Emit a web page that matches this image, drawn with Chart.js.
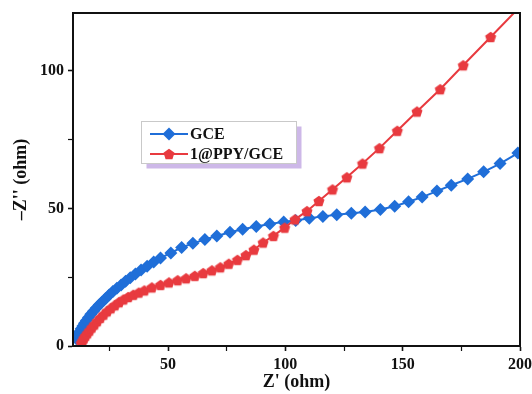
<!DOCTYPE html>
<html>
<head>
<meta charset="utf-8">
<script src="https://cdn.jsdelivr.net/npm/chart.js@4/dist/chart.umd.min.js"></script>
<style>
  html, body { margin: 0; padding: 0; background: #fff; }
</style>
</head>
<body>
<canvas id="nyquist" width="532" height="394"></canvas>
<script>
// Nyquist plot, values (Z' / -Z'' in ohm)
const gceX = [10.9, 11.3, 11.8, 12.4, 13.0, 13.7, 14.4, 15.2, 16.1, 17.1, 18.2, 19.4, 20.7, 22.0, 23.4, 24.9,
  26.5, 28.2, 30.0, 31.9, 33.9, 36.1, 38.5, 41.1, 43.9, 46.8, 51.2, 55.8, 60.6, 65.7, 70.8, 76.4, 81.8,
  87.6, 93.4, 99.3, 104.4, 110.2, 116.0, 121.9, 128.1, 134.0, 140.5, 146.6, 152.5, 158.3, 164.6, 170.7,
  177.7, 184.5, 191.5, 199.1];
const gceY = [2.6, 3.4, 4.3, 5.3, 6.3, 7.3, 8.3, 9.3, 10.4, 11.5, 12.6, 13.8, 15.0, 16.1, 17.3, 18.5,
  19.8, 21.0, 22.2, 23.5, 24.8, 26.2, 27.6, 29.0, 30.5, 32.0, 33.8, 35.8, 37.3, 38.7, 40.0, 41.3, 42.4,
  43.4, 44.3, 45.1, 45.6, 46.4, 47.1, 47.7, 48.2, 48.7, 49.6, 50.8, 52.4, 54.1, 56.3, 58.4,
  60.7, 63.3, 66.3, 70.1];

const ppyX = [13.0, 13.5, 14.1, 14.8, 15.6, 16.5, 17.5, 18.6, 19.8, 21.1, 22.5, 24.0, 25.6, 27.3, 29.1,
  31.0, 33.0, 35.2, 37.5, 39.9, 43.1, 46.8, 50.4, 54.1, 57.7, 61.4, 65.0, 68.7, 72.3, 75.9, 79.6, 83.2,
  86.6, 90.5, 94.9, 99.7, 104.1, 109.2, 114.3, 120.1, 126.2, 132.9, 140.1, 147.7, 156.1, 166.0, 175.8,
  187.5, 200.5];
const ppyY = [1.0, 1.9, 2.8, 3.7, 4.6, 5.6, 6.7, 7.8, 9.0, 10.2, 11.4, 12.6, 13.7, 14.8, 15.9,
  16.9, 17.8, 18.6, 19.4, 20.2, 21.3, 22.2, 23.1, 23.9, 24.6, 25.5, 26.5, 27.5, 28.6, 29.9, 31.3, 33.0,
  35.0, 37.6, 40.0, 43.0, 46.0, 49.0, 52.7, 56.9, 61.3, 66.3, 71.9, 78.2, 85.2, 93.3, 102.0,
  112.3, 123.7];

const xTicksMajor = [50, 100, 150, 200];
const yTicksMajor = [0, 50, 100];

const BLUE = '#1f6ed8';
const RED = '#e83a3f';
const FONT = "'Liberation Serif', 'Times New Roman', serif";

function pentagon(r, color) {
  const s = Math.ceil(r * 2 + 2);
  const c = document.createElement('canvas');
  c.width = s; c.height = s;
  const g = c.getContext('2d');
  g.fillStyle = color;
  g.beginPath();
  for (let i = 0; i < 5; i++) {
    const a = -Math.PI / 2 + i * 2 * Math.PI / 5;
    const px = s / 2 + r * Math.cos(a);
    const py = s / 2 + 0.6 + r * Math.sin(a);
    if (i === 0) g.moveTo(px, py); else g.lineTo(px, py);
  }
  g.closePath();
  g.fill();
  return c;
}
const redPent = pentagon(5.8, RED);

const pts = (xs, ys) => xs.map((x, i) => ({ x, y: ys[i] }));

// frame on top/right + legend box with its shadow
const frameAndLegend = {
  id: 'frameAndLegend',
  afterDatasetsDraw(chart) {
    const { ctx, chartArea: a } = chart;
    ctx.save();
    ctx.strokeStyle = '#111';
    ctx.lineWidth = 2;
    ctx.strokeRect(a.left, a.top, a.right - a.left, a.bottom - a.top);
    ctx.restore();
  },
  afterDraw(chart) {
    const ctx = chart.ctx;
    const bx = 141.5, by = 121.5, bw = 155, bh = 42;
    ctx.save();
    ctx.fillStyle = '#cdb8e8';
    ctx.fillRect(bx + 5, by + 5, bw, bh);
    ctx.fillStyle = '#fff';
    ctx.fillRect(bx, by, bw, bh);
    ctx.strokeStyle = '#c9c9c9';
    ctx.lineWidth = 1;
    ctx.strokeRect(bx, by, bw, bh);

    const rows = [
      { label: 'GCE', color: BLUE, style: 'rectRot', radius: 6.5, y: 134 },
      { label: '1@PPY/GCE', color: RED, style: redPent, radius: 6, y: 154 }
    ];
    rows.forEach(r => {
      ctx.strokeStyle = r.color;
      ctx.lineWidth = 2;
      ctx.beginPath();
      ctx.moveTo(150, r.y);
      ctx.lineTo(188, r.y);
      ctx.stroke();
      ctx.fillStyle = r.color;
      Chart.helpers.drawPoint(ctx, { pointStyle: r.style, radius: r.radius, rotation: 0, borderWidth: 0 }, 169, r.y);
      ctx.fillStyle = '#111';
      ctx.font = "bold 16px " + FONT;
      ctx.textBaseline = 'middle';
      ctx.fillText(r.label, 190, r.y + 1);
    });
    ctx.restore();
  }
};

const ctx = document.getElementById('nyquist').getContext('2d');
new Chart(ctx, {
  type: 'scatter',
  data: {
    datasets: [
      {
        label: 'GCE',
        data: pts(gceX, gceY),
        showLine: true,
        borderColor: BLUE,
        backgroundColor: BLUE,
        borderWidth: 2,
        pointStyle: 'rectRot',
        pointRadius: 6.5,
        pointBorderWidth: 0,
        order: 2
      },
      {
        label: '1@PPY/GCE',
        data: pts(ppyX, ppyY),
        showLine: true,
        borderColor: RED,
        backgroundColor: RED,
        borderWidth: 2,
        pointStyle: redPent,
        pointRadius: 6,
        pointBorderWidth: 0,
        order: 1
      }
    ]
  },
  options: {
    responsive: false,
    animation: false,
    layout: { padding: { left: 0, right: 12, top: 13, bottom: 0 } },
    plugins: {
      legend: { display: false },
      tooltip: { enabled: false }
    },
    scales: {
      x: {
        type: 'linear',
        min: 9.5,
        max: 200,
        afterFit: s => { s.height = 48; s.paddingLeft = 0; s.paddingRight = 0; },
        border: { display: true, color: '#111', width: 2 },
        grid: {
          drawOnChartArea: false,
          tickLength: 5,
          tickColor: '#111',
          tickWidth: c => xTicksMajor.includes(c.tick.value) ? 1.6 : 1.2
        },
        ticks: {
          stepSize: 25,
          includeBounds: false,
          padding: 4,
          color: '#111',
          font: { family: FONT, size: 16, weight: 'bold' },
          callback: v => xTicksMajor.includes(v) ? String(v) : ''
        },
        title: {
          display: true,
          text: "Z' (ohm)",
          color: '#111',
          font: { family: FONT, size: 18, weight: 'bold' },
          padding: { top: 0, bottom: 1 }
        }
      },
      y: {
        type: 'linear',
        min: 0,
        max: 121,
        afterFit: s => { s.width = 73; s.paddingTop = 0; s.paddingBottom = 0; },
        border: { display: true, color: '#111', width: 2 },
        grid: {
          drawOnChartArea: false,
          tickLength: 5,
          tickColor: '#111',
          tickWidth: c => yTicksMajor.includes(c.tick.value) ? 1.6 : 1.2
        },
        ticks: {
          stepSize: 25,
          includeBounds: false,
          padding: 4,
          color: '#111',
          font: { family: FONT, size: 16, weight: 'bold' },
          callback: v => yTicksMajor.includes(v) ? String(v) : ''
        },
        title: {
          display: true,
          text: "\u2013Z'' (ohm)",
          color: '#111',
          font: { family: FONT, size: 18, weight: 'bold' },
          padding: { top: 11, bottom: 0 }
        }
      }
    }
  },
  plugins: [frameAndLegend]
});
</script>
</body>
</html>
